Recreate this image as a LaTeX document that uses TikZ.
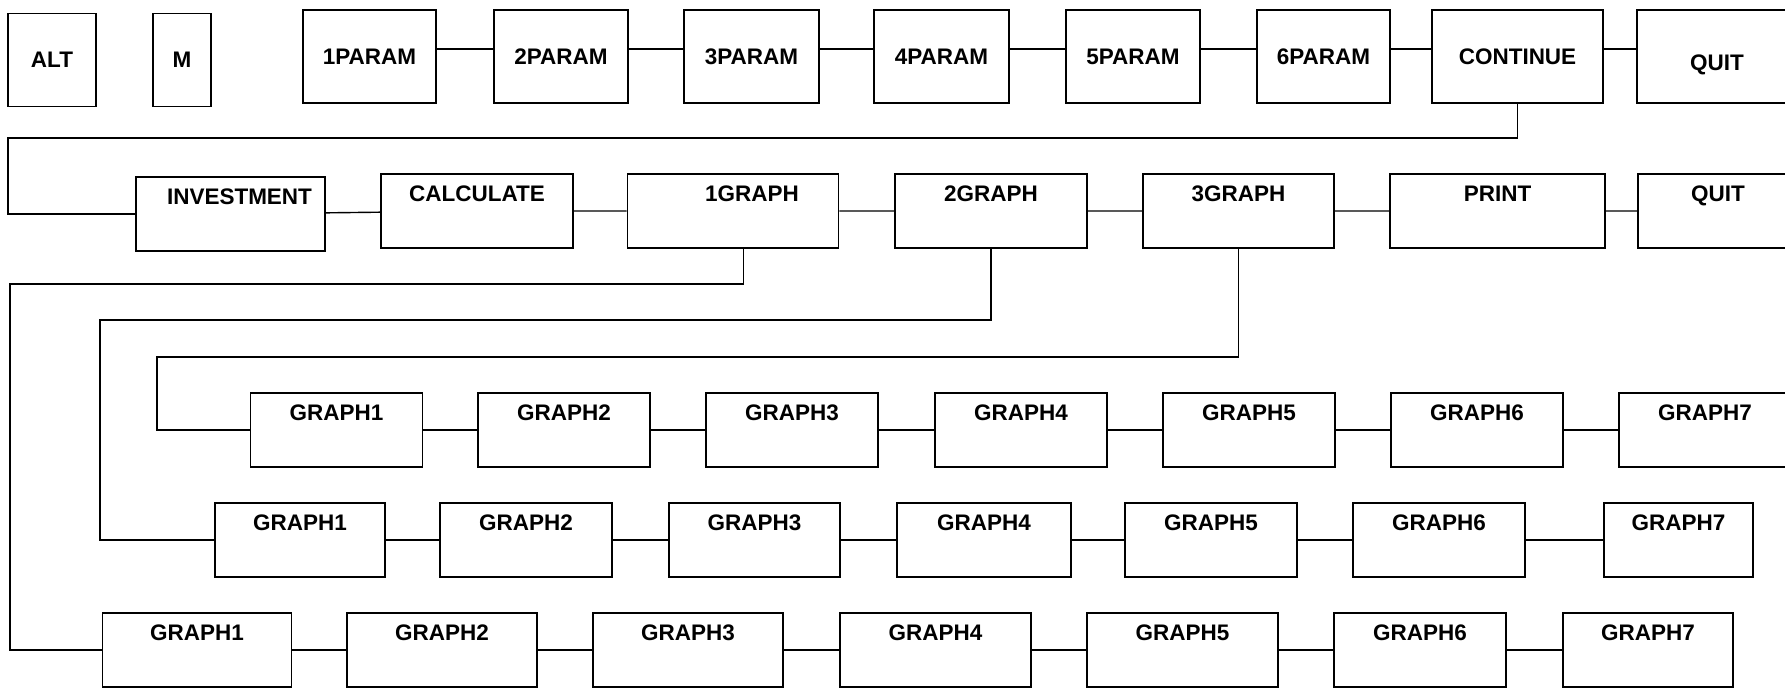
\documentclass[tikz,border=0pt]{standalone}
\usepackage{fontspec}
\setmainfont{Liberation Sans}

\begin{document}
\begin{tikzpicture}[x=0.02cm, y=-0.02cm,
    topbox/.style={draw, line width=0.8pt, inner sep=0pt, minimum width=2.68cm, minimum height=1.86cm,
      font=\bfseries\fontsize{12.8}{15}\selectfont},
    subbox/.style={draw, line width=0.8pt, inner xsep=0pt, inner ysep=0.22cm, text height=0.32cm,
      text depth=0.72cm, minimum width=3.44cm, font=\bfseries\fontsize{12.8}{15}\selectfont},
    edge/.style={line width=0.8pt},
    upedge/.style={edge, transform canvas={yshift=4.3pt}}]
  \useasboundingbox (0,0) rectangle (1785,687);
  \clip (0,0) rectangle (1785,687);
  % top menu
  \node[topbox, minimum width=1.76cm] (alt) at (52,60) {ALT};
  \node[topbox, minimum width=1.16cm] (m) at (182,60) {M};
  \node[topbox, minimum width=2.66cm] (p1) at (369.5,56.5) {1PARAM};
  \node[topbox] (p2) at (561,56.5) {2PARAM};
  \node[topbox, minimum width=2.70cm] (p3) at (751.5,56.5) {3PARAM};
  \node[topbox, minimum width=2.70cm] (p4) at (941.5,56.5) {4PARAM};
  \node[topbox] (p5) at (1133,56.5) {5PARAM};
  \node[topbox, minimum width=2.66cm] (p6) at (1323.5,56.5) {6PARAM};
  \node[topbox, minimum width=3.42cm] (cont) at (1517.5,56.5) {CONTINUE};
  \node[topbox, minimum width=3.2cm, text height=0.56cm, text depth=0cm] (quita) at (1717,56.5) {QUIT};
  \draw[upedge] (p1) -- (p2) (p2) -- (p3) (p3) -- (p4) (p4) -- (p5) (p5) -- (p6)
    (p6) -- (cont) (cont) -- (quita);
  % second menu
  \node[subbox, minimum width=3.78cm] (inv) at (230.5,214) {\hspace*{0.36cm}INVESTMENT};
  \node[subbox, minimum width=3.84cm] (calc) at (477,211) {CALCULATE};
  \node[subbox, minimum width=4.23cm] (ga) at (733,211) {\hspace*{0.76cm}1GRAPH};
  \node[subbox, minimum width=3.84cm] (gb) at (991,211) {2GRAPH};
  \node[subbox, minimum width=3.82cm] (gc) at (1238.5,211) {3GRAPH};
  \node[subbox, minimum width=4.30cm] (prt) at (1497.5,211) {PRINT};
  \node[subbox, minimum width=3.2cm] (quitb) at (1718,211) {QUIT};
  \draw[edge] (inv) -- (calc) (calc) -- (ga) (ga) -- (gb) (gb) -- (gc) (gc) -- (prt) (prt) -- (quitb);
  \coordinate (tl) at (8,138);
  \draw[edge] (cont.south) |- (tl) |- (inv.west);
  % graphs of 3GRAPH
  \node[subbox] (ca) at (336.5,430) {GRAPH1};
  \node[subbox] (cb) at (564,430) {GRAPH2};
  \node[subbox] (cc) at (792,430) {GRAPH3};
  \node[subbox] (cd) at (1021,430) {GRAPH4};
  \node[subbox] (ce) at (1249,430) {GRAPH5};
  \node[subbox] (cf) at (1477,430) {GRAPH6};
  \node[subbox] (cg) at (1705,430) {GRAPH7};
  \draw[edge] (ca) -- (cb) (cb) -- (cc) (cc) -- (cd) (cd) -- (ce) (ce) -- (cf) (cf) -- (cg);
  % graphs of 2GRAPH
  \node[subbox, minimum width=3.40cm] (ba) at (300,540) {GRAPH1};
  \node[subbox] (bb) at (526,540) {GRAPH2};
  \node[subbox, minimum width=3.42cm] (bc) at (754.5,540) {GRAPH3};
  \node[subbox, minimum width=3.48cm] (bd) at (984,540) {GRAPH4};
  \node[subbox] (be) at (1211,540) {GRAPH5};
  \node[subbox] (bf) at (1439,540) {GRAPH6};
  \node[subbox, minimum width=2.98cm] (bg) at (1678.5,540) {GRAPH7};
  \draw[edge] (ba) -- (bb) (bb) -- (bc) (bc) -- (bd) (bd) -- (be) (be) -- (bf) (bf) -- (bg);
  % graphs of 1GRAPH
  \node[subbox, minimum width=3.78cm] (aa) at (197,650) {GRAPH1};
  \node[subbox, minimum width=3.80cm] (ab) at (442,650) {GRAPH2};
  \node[subbox, minimum width=3.80cm] (ac) at (688,650) {GRAPH3};
  \node[subbox, minimum width=3.82cm] (ad) at (935.5,650) {GRAPH4};
  \node[subbox, minimum width=3.82cm] (ae) at (1182.5,650) {GRAPH5};
  \node[subbox] (af) at (1420,650) {GRAPH6};
  \node[subbox, minimum width=3.40cm] (ag) at (1648,650) {GRAPH7};
  \draw[edge] (aa) -- (ab) (ab) -- (ac) (ac) -- (ad) (ad) -- (ae) (ae) -- (af) (af) -- (ag);
  % branches
  \coordinate (la) at (10,284);
  \coordinate (lb) at (100,320);
  \coordinate (lc) at (157,357);
  \draw[edge] ([xshift=0.21cm]ga.south) |- (la) |- (aa.west);
  \draw[edge] (gb.south) |- (lb) |- (ba.west);
  \draw[edge] (gc.south) |- (lc) |- (ca.west);
\end{tikzpicture}
\end{document}
